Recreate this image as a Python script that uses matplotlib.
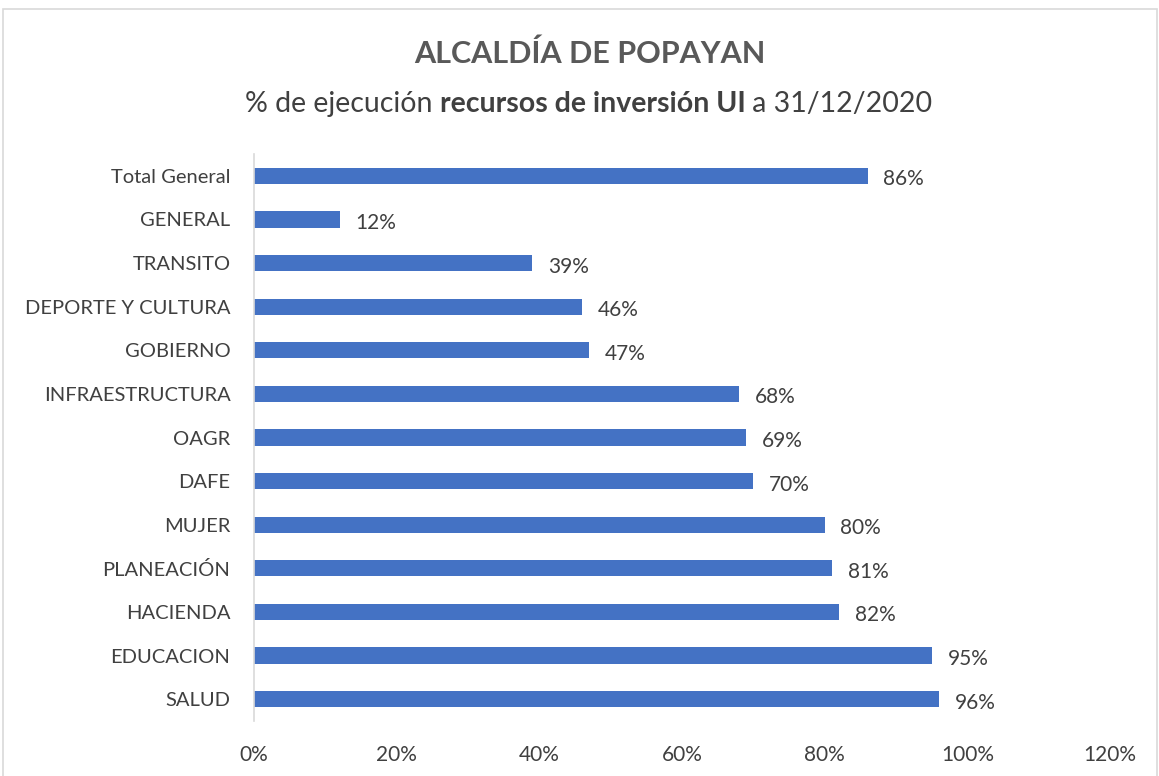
import matplotlib.pyplot as plt
from matplotlib.patches import Rectangle
from matplotlib.ticker import FuncFormatter

# values, top to bottom
categories = ['Total General', 'GENERAL', 'TRANSITO', 'DEPORTE Y CULTURA', 'GOBIERNO',
              'INFRAESTRUCTURA', 'OAGR', 'DAFE', 'MUJER', 'PLANEACIÓN', 'HACIENDA',
              'EDUCACION', 'SALUD']
ejecucion = [0.86, 0.12, 0.39, 0.46, 0.47, 0.68, 0.69, 0.70, 0.80, 0.81, 0.82, 0.95, 0.96]
xticks = [0, 0.2, 0.4, 0.6, 0.8, 1.0, 1.2]

plt.rcParams['font.family'] = ['Lato', 'DejaVu Sans']
bar_color = '#4472C4'
text_color = '#404040'

fig = plt.figure(figsize=(11.59, 7.76), dpi=100)
ax = fig.add_axes([0.2192, 0.0709, 0.7386, 0.7306])

y = list(range(len(categories)))
ax.barh(y, ejecucion, height=0.37, color=bar_color)
for yi, v in zip(y, ejecucion):
    ax.text(v + 0.022, yi + 0.08, f'{v:.0%}', va='center', ha='left',
            fontsize=15, color=text_color)

ax.set_yticks(y)
ax.set_yticklabels(categories, fontsize=14.5, color=text_color)
ax.set_ylim(len(categories) - 0.5, -0.5)
ax.set_xlim(0, 1.2)
ax.set_xticks(xticks)
ax.xaxis.set_major_formatter(FuncFormatter(lambda v, p: f'{v:.0%}'))
ax.tick_params(axis='x', labelsize=15, labelcolor=text_color, length=0, pad=17)
ax.tick_params(axis='y', length=0, pad=17)
for s in ['top', 'right', 'bottom']:
    ax.spines[s].set_visible(False)
ax.spines['left'].set_color('#D9D9D9')
ax.spines['left'].set_linewidth(1.2)

# chart border
fig.patches.append(Rectangle((0.003, -0.01), 0.995, 0.999, transform=fig.transFigure,
                             fill=False, edgecolor='#D9D9D9', linewidth=1.2))

# title
fig.text(0.509, 0.931, 'ALCALDÍA DE POPAYAN', ha='center', va='center',
         fontsize=22, fontweight='bold', color='#595959')

# subtitle with a bold middle part
parts = [('% de ejecución ', 'normal'), ('recursos de inversión UI', 'bold'), (' a 31/12/2020', 'normal')]
fig.canvas.draw()
renderer = fig.canvas.get_renderer()
objs = []
for txt, w in parts:
    objs.append(fig.text(0, 0.866, txt, ha='left', va='center', fontsize=20.5,
                         fontweight=w, color=text_color))
widths = [o.get_window_extent(renderer).width for o in objs]
x0 = (0.508 * fig.bbox.width - sum(widths) / 2)
for o, w in zip(objs, widths):
    o.set_x(x0 / fig.bbox.width)
    x0 += w

fig.savefig('out.png', dpi=100)
